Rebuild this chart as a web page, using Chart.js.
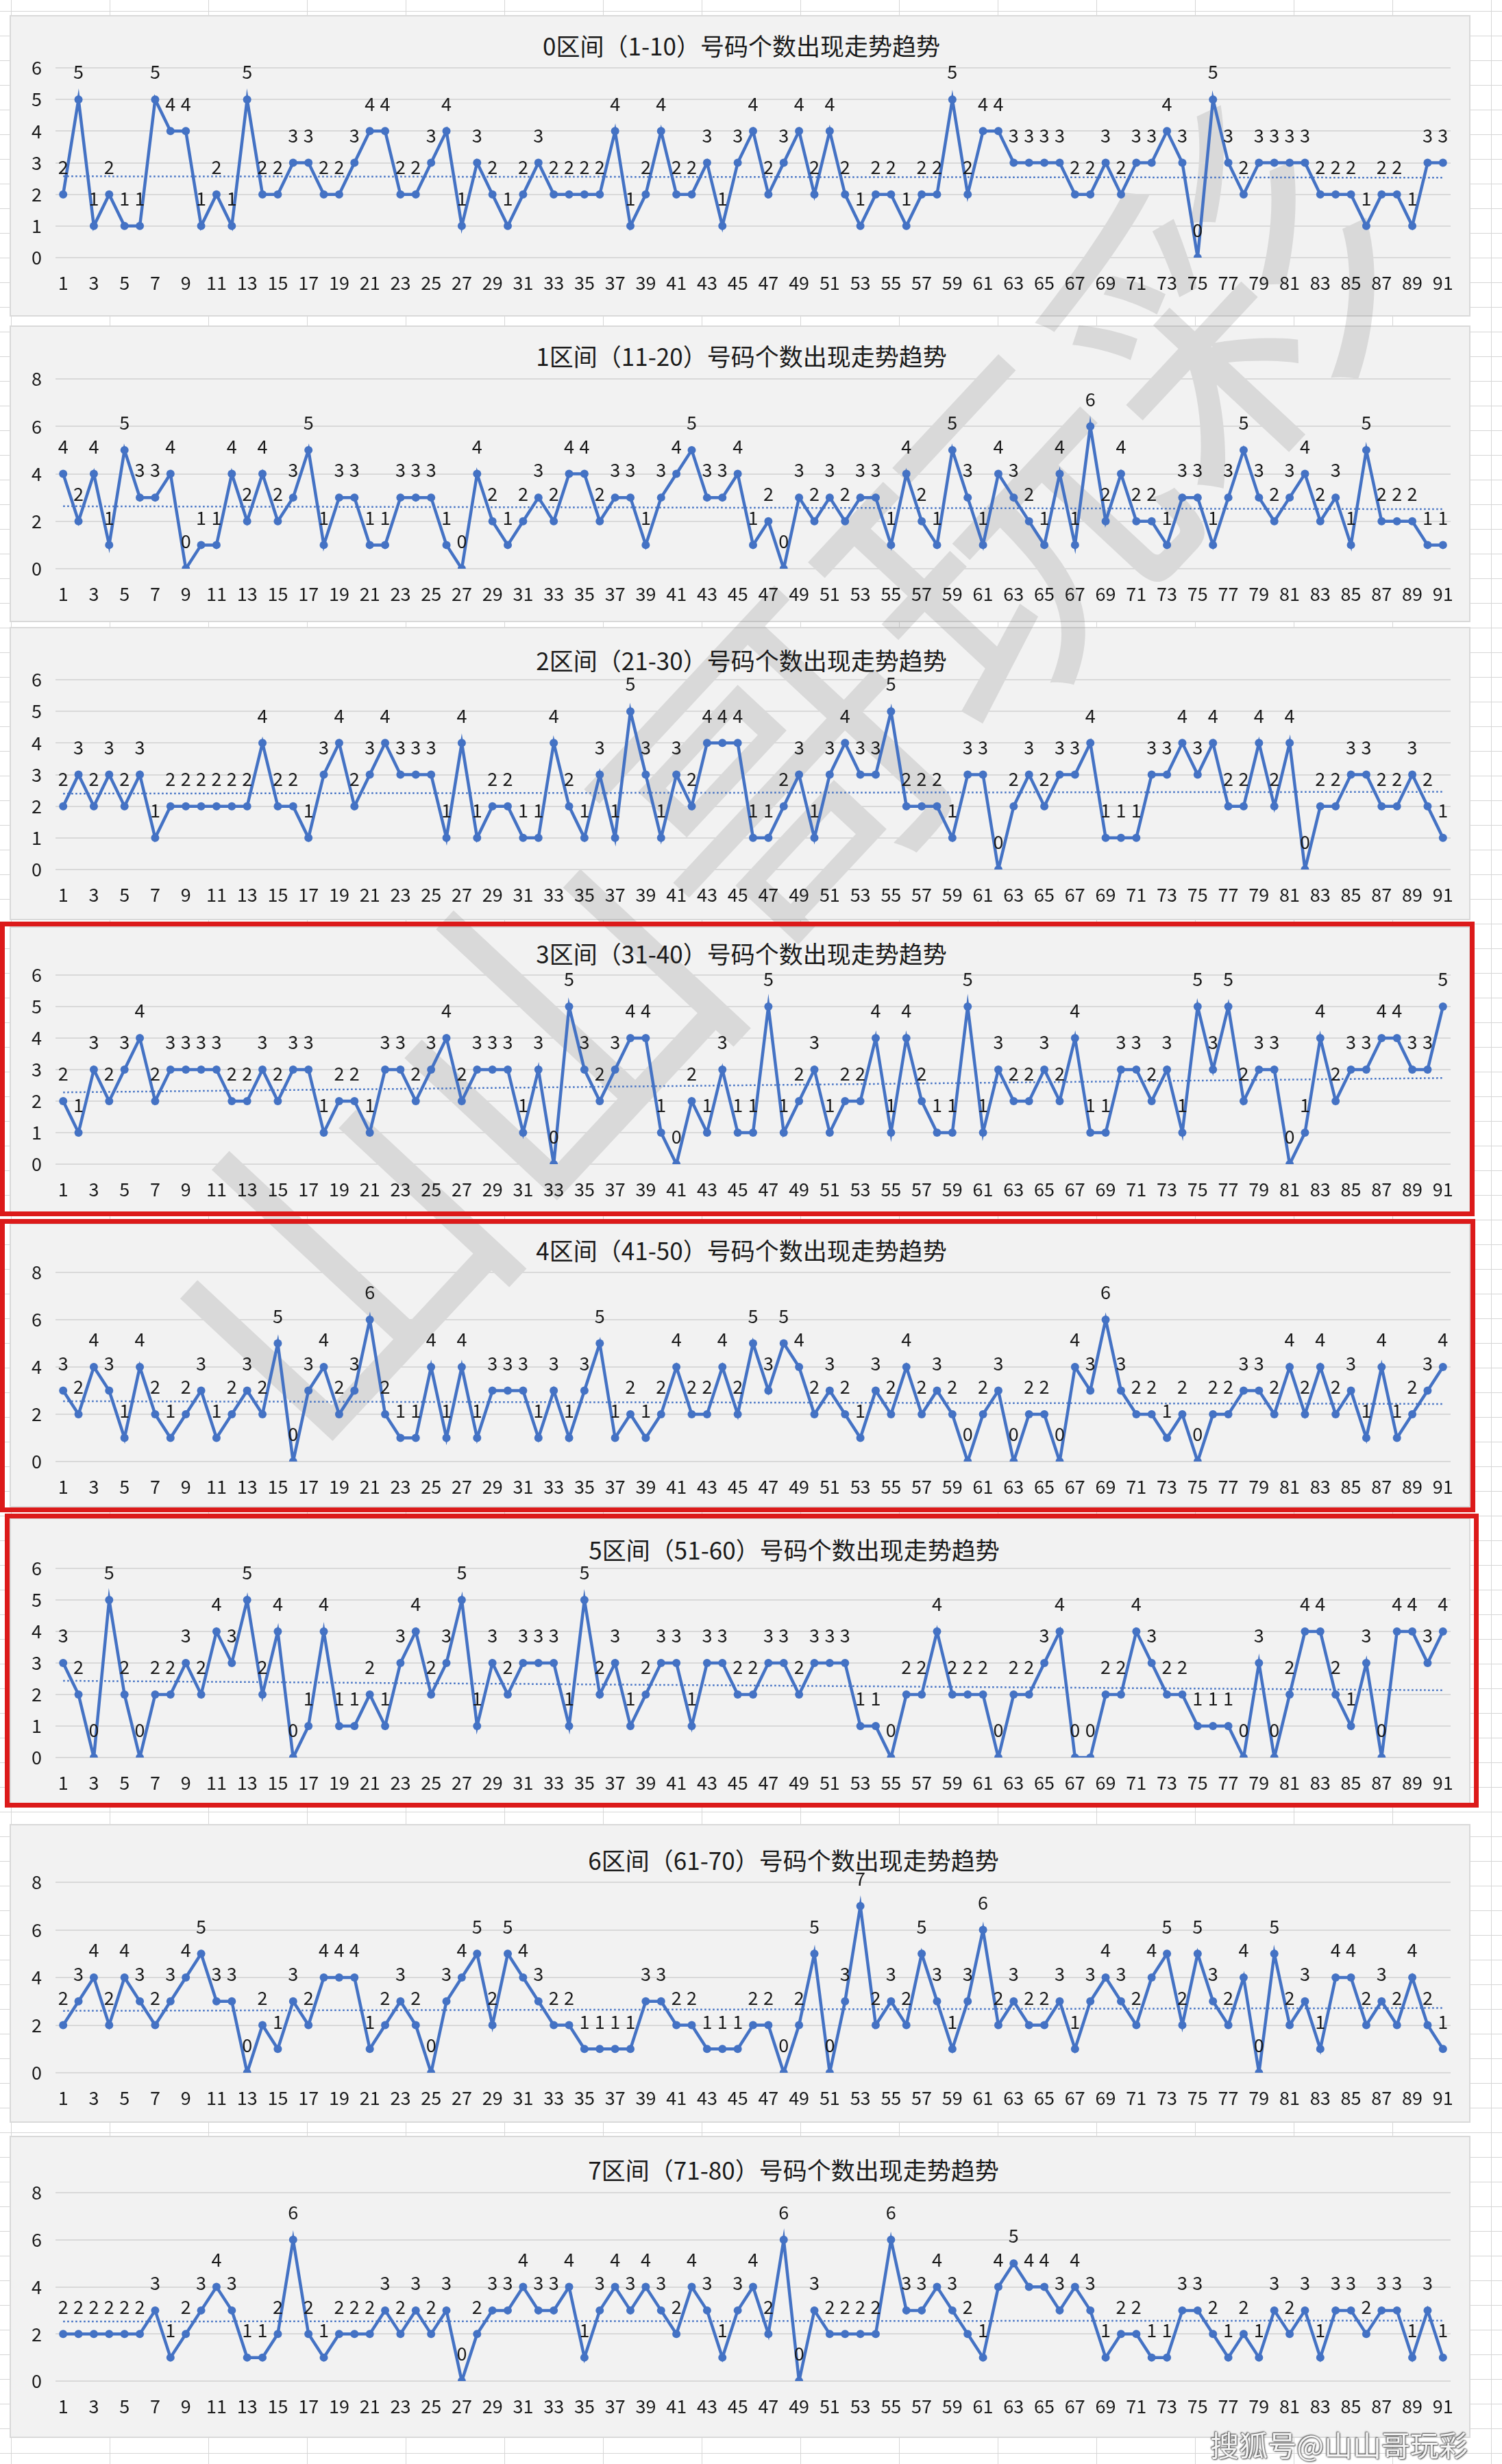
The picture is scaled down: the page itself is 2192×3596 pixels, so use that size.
<!DOCTYPE html>
<html>
<head>
<meta charset="utf-8">
<script src="https://cdn.jsdelivr.net/npm/chart.js@4.4.1/dist/chart.umd.min.js"></script>
<style>
  html, body { margin: 0; padding: 0; }
  body {
    width: 2192px; height: 3596px; position: relative; overflow: hidden;
    background-color: #fff;
    background-image: linear-gradient(to right, #d6d6d6 1px, transparent 1px),
                      linear-gradient(to bottom, #d6d6d6 1px, transparent 1px);
    background-size: 144px 36px;
    background-position: 16px 16px;
    font-family: "Noto Sans CJK SC", sans-serif;
  }
  .box { position: absolute; background: #f2f2f2; border: 2px solid #d9d9d9; box-sizing: border-box; z-index: 1; }
  .ttl { position: absolute; font-size: 35px; color: #1a1a1a; white-space: nowrap; transform: translate(-50%, -50%); z-index: 3; }
  canvas { position: absolute; z-index: 3; }
  .red { position: absolute; border: 7px solid #dc1a1a; box-sizing: border-box; z-index: 4; }
  #wm {
    position: absolute; z-index: 2; white-space: nowrap; font-size: 480px; line-height: 1;
    color: rgba(128, 128, 128, 0.22); transform: translate(-50%, -50%) rotate(-47deg);
    left: 1115px; top: 1120px;
  }
  #foot {
    position: absolute; z-index: 5; right: 50px; top: 3536px; font-size: 42px; color: #f4f4f4;
    text-shadow: 0 0 2px #555, 1px 1px 2px #555, -1px -1px 2px #555;
  }
</style>
</head>
<body>
<div id="wm">山山哥玩彩</div>
<div id="foot">搜狐号@山山哥玩彩</div>
<script>
const periods = [1,2,3,4,5,6,7,8,9,10,11,12,13,14,15,16,17,18,19,20,21,22,23,24,25,26,27,28,29,30,
  31,32,33,34,35,36,37,38,39,40,41,42,43,44,45,46,47,48,49,50,51,52,53,54,55,56,57,58,59,60,
  61,62,63,64,65,66,67,68,69,70,71,72,73,74,75,76,77,78,79,80,81,82,83,84,85,86,87,88,89,90,91]

const titles = [
  '0区间（1-10）号码个数出现走势趋势',
  '1区间（11-20）号码个数出现走势趋势',
  '2区间（21-30）号码个数出现走势趋势',
  '3区间（31-40）号码个数出现走势趋势',
  '4区间（41-50）号码个数出现走势趋势',
  '5区间（51-60）号码个数出现走势趋势',
  '6区间（61-70）号码个数出现走势趋势',
  '7区间（71-80）号码个数出现走势趋势'
]

const zone0 = [2,5,1,2,1,1,5,4,4,1, 2,1,5,2,2,3,3,2,2,3, 4,4,2,2,3,4,1,3,2,1, 2,3,2,2,2,2,4,1,2,4,
  2,2,3,1,3,4,2,3,4,2, 4,2,1,2,2,1,2,2,5,2, 4,4,3,3,3,3,2,2,3,2, 3,3,4,3,0,5,3,2,3,3, 3,3,2,2,2,1,2,2,1,3,3]
const zone1 = [4,2,4,1,5,3,3,4,0,1, 1,4,2,4,2,3,5,1,3,3, 1,1,3,3,3,1,0,4,2,1, 2,3,2,4,4,2,3,3,1,3,
  4,5,3,3,4,1,2,0,3,2, 3,2,3,3,1,4,2,1,5,3, 1,4,3,2,1,4,1,6,2,4, 2,2,1,3,3,1,3,5,3,2, 3,4,2,3,1,5,2,2,2,1,1]
const zone2 = [2,3,2,3,2,3,1,2,2,2, 2,2,2,4,2,2,1,3,4,2, 3,4,3,3,3,1,4,1,2,2, 1,1,4,2,1,3,1,5,3,1,
  3,2,4,4,4,1,1,2,3,1, 3,4,3,3,5,2,2,2,1,3, 3,0,2,3,2,3,3,4,1,1, 1,3,3,4,3,4,2,2,4,2, 4,0,2,2,3,3,2,2,3,2,1]
const zone3 = [2,1,3,2,3,4,2,3,3,3, 3,2,2,3,2,3,3,1,2,2, 1,3,3,2,3,4,2,3,3,3, 1,3,0,5,3,2,3,4,4,1,
  0,2,1,3,1,1,5,1,2,3, 1,2,2,4,1,4,2,1,1,5, 1,3,2,2,3,2,4,1,1,3, 3,2,3,1,5,3,5,2,3,3, 0,1,4,2,3,3,4,4,3,3,5]
const zone4 = [3,2,4,3,1,4,2,1,2,3, 1,2,3,2,5,0,3,4,2,3, 6,2,1,1,4,1,4,1,3,3, 3,1,3,1,3,5,1,2,1,2,
  4,2,2,4,2,5,3,5,4,2, 3,2,1,3,2,4,2,3,2,0, 2,3,0,2,2,0,4,3,6,3, 2,2,1,2,0,2,2,3,3,2, 4,2,4,2,3,1,4,1,2,3,4]
const zone5 = [3,2,0,5,2,0,2,2,3,2, 4,3,5,2,4,0,1,4,1,1, 2,1,3,4,2,3,5,1,3,2, 3,3,3,1,5,2,3,1,2,3,
  3,1,3,3,2,2,3,3,2,3, 3,3,1,1,0,2,2,4,2,2, 2,0,2,2,3,4,0,0,2,2, 4,3,2,2,1,1,1,0,3,0, 2,4,4,2,1,3,0,4,4,3,4]
const zone6 = [2,3,4,2,4,3,2,3,4,5, 3,3,0,2,1,3,2,4,4,4, 1,2,3,2,0,3,4,5,2,5, 4,3,2,2,1,1,1,1,3,3,
  2,2,1,1,1,2,2,0,2,5, 0,3,7,2,3,2,5,3,1,3, 6,2,3,2,2,3,1,3,4,3, 2,4,5,2,5,3,2,4,0,5, 2,3,1,4,4,2,3,2,4,2,1]
const zone7 = [2,2,2,2,2,2,3,1,2,3, 4,3,1,1,2,6,2,1,2,2, 2,3,2,3,2,3,0,2,3,3, 4,3,3,4,1,3,4,3,4,3,
  2,4,3,1,3,4,2,6,0,3, 2,2,2,2,6,3,3,4,3,2, 1,4,5,4,4,3,4,3,1,2, 2,1,1,3,3,2,1,2,1,3, 2,3,1,3,3,2,3,3,1,3,1]

const zones = [zone0, zone1, zone2, zone3, zone4, zone5, zone6, zone7]
const yMax = [6, 8, 6, 6, 8, 6, 8, 8]
const yStep = [1, 2, 1, 1, 2, 1, 2, 2]

// page layout (px): chart box, plot top/bottom, title centre
const panels = [
  { left: 14, top: 22,   bottom: 462,  gridTop: 99,   gridBottom: 376,  tx: 1082, ty: 65 },
  { left: 14, top: 475,  bottom: 908,  gridTop: 553,  gridBottom: 830,  tx: 1082, ty: 518 },
  { left: 14, top: 915,  bottom: 1343, gridTop: 992,  gridBottom: 1269, tx: 1082, ty: 962 },
  { left: 14, top: 1352, bottom: 1770, gridTop: 1423, gridBottom: 1699, tx: 1082, ty: 1390 },
  { left: 14, top: 1785, bottom: 2200, gridTop: 1857, gridBottom: 2133, tx: 1082, ty: 1823 },
  { left: 14, top: 2215, bottom: 2633, gridTop: 2289, gridBottom: 2565, tx: 1159, ty: 2260 },
  { left: 14, top: 2662, bottom: 3098, gridTop: 2747, gridBottom: 3025, tx: 1158, ty: 2713 },
  { left: 14, top: 3117, bottom: 3558, gridTop: 3200, gridBottom: 3475, tx: 1158, ty: 3165 }
]
const boxRight = 2146
const plotLeft = 81
const plotRight = 2117
const redBoxes = [
  { left: 0, top: 1345, width: 2152, height: 430 },
  { left: 0, top: 1779, width: 2153, height: 428 },
  { left: 7, top: 2209, width: 2151, height: 429 }
]

const blue = '#4472C4'
const textColor = '#1a1a1a'
const numFont = { family: '"Noto Sans CJK SC", sans-serif', size: 27 }

// linear trend line, like the one in the spreadsheet
function trendOf (vals) {
  const n = vals.length
  let sx = 0, sy = 0, sxx = 0, sxy = 0
  vals.forEach((v, i) => { const x = i + 1; sx += x; sy += v; sxx += x * x; sxy += x * v })
  const b = (n * sxy - sx * sy) / (n * sxx - sx * sx)
  const a = (sy - b * sx) / n
  return vals.map((v, i) => a + b * (i + 1))
}

const pointLabels = {
  id: 'pointLabels',
  afterDatasetsDraw (chart) {
    const meta = chart.getDatasetMeta(0)
    const vals = chart.data.datasets[0].data
    const ctx = chart.ctx
    ctx.save()
    ctx.font = numFont.size + 'px ' + numFont.family
    ctx.fillStyle = textColor
    ctx.textAlign = 'center'
    ctx.textBaseline = 'middle'
    meta.data.forEach((pt, i) => ctx.fillText(String(vals[i]), pt.x, pt.y - 40))
    ctx.restore()
  }
}

function addDiv (cls, css, text) {
  const d = document.createElement('div')
  d.className = cls
  Object.assign(d.style, css)
  if (text) d.textContent = text
  document.body.appendChild(d)
  return d
}

panels.forEach((p, k) => {
  const w = boxRight - p.left
  const h = p.bottom - p.top
  addDiv('box', { left: p.left + 'px', top: p.top + 'px', width: w + 'px', height: h + 'px' })
  addDiv('ttl', { left: p.tx + 'px', top: p.ty + 'px' }, titles[k])

  const canvas = document.createElement('canvas')
  canvas.width = w
  canvas.height = h
  canvas.style.left = p.left + 'px'
  canvas.style.top = p.top + 'px'
  canvas.style.width = w + 'px'
  canvas.style.height = h + 'px'
  document.body.appendChild(canvas)

  const vals = zones[k]
  new Chart(canvas.getContext('2d'), {
    type: 'line',
    data: {
      labels: periods,
      datasets: [{
        data: vals,
        borderColor: blue,
        backgroundColor: blue,
        borderWidth: 4.5,
        pointRadius: 6,
        pointBorderWidth: 0,
        tension: 0
      }, {
        data: trendOf(vals),
        borderColor: blue,
        borderWidth: 2.5,
        borderDash: [2.5, 3.5],
        pointRadius: 0,
        tension: 0
      }]
    },
    options: {
      animation: false,
      responsive: false,
      maintainAspectRatio: false,
      devicePixelRatio: 1,
      events: [],
      layout: {
        padding: { top: p.gridTop - p.top, right: boxRight - plotRight, bottom: 0, left: 0 }
      },
      plugins: {
        legend: { display: false },
        title: { display: false },
        tooltip: { enabled: false }
      },
      scales: {
        x: {
          offset: true,
          grid: { display: false, drawTicks: false },
          border: { display: false },
          ticks: {
            autoSkip: false,
            maxRotation: 0,
            padding: 21,
            color: textColor,
            font: numFont,
            callback: (v, i) => (i % 2 === 0 ? periods[i] : '')
          },
          afterFit: (s) => { s.height = p.bottom - p.gridBottom }
        },
        y: {
          min: 0,
          max: yMax[k],
          grid: { color: '#d9d9d9', lineWidth: 2, drawTicks: false },
          border: { display: false },
          ticks: { stepSize: yStep[k], padding: 20, color: textColor, font: numFont },
          afterFit: (s) => { s.width = plotLeft - p.left }
        }
      }
    },
    plugins: [pointLabels]
  })
})

redBoxes.forEach((r) => {
  addDiv('red', { left: r.left + 'px', top: r.top + 'px', width: r.width + 'px', height: r.height + 'px' })
})
</script>
</body>
</html>
